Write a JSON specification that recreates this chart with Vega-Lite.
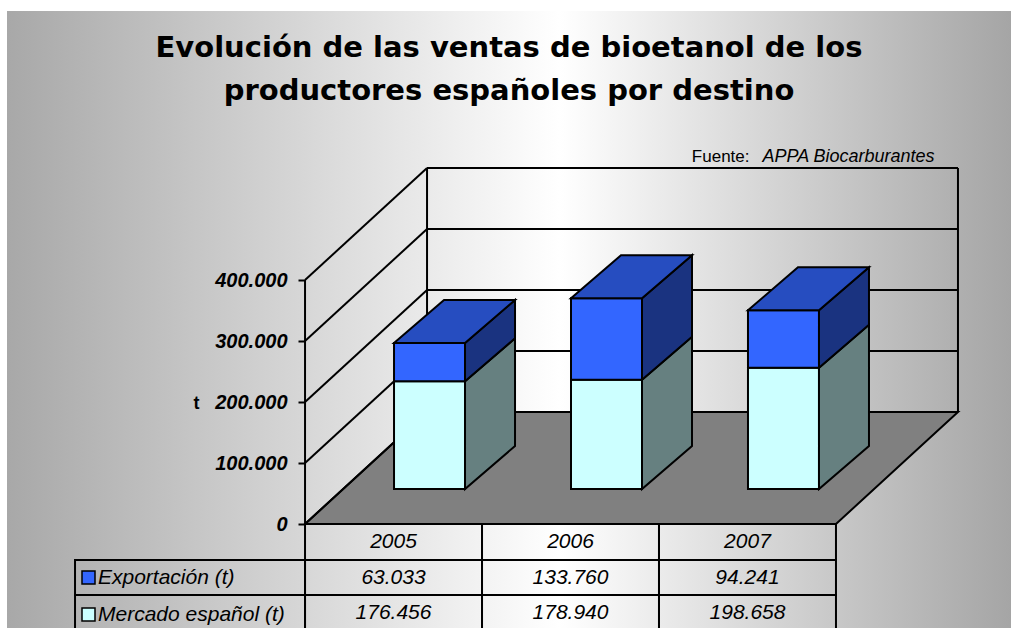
{
  "$schema": "https://vega.github.io/schema/vega-lite/v6.json",
  "background": "white",
  "padding": {"top": 11, "left": 7, "right": 0, "bottom": 0},
  "bounds": "flush",
  "spacing": 0,
  "datasets": {
    "ventas": [
      {"year": 2005, "series": "Mercado español (t)", "value": 176456},
      {"year": 2005, "series": "Exportación (t)", "value": 63033},
      {"year": 2006, "series": "Mercado español (t)", "value": 178940},
      {"year": 2006, "series": "Exportación (t)", "value": 133760},
      {"year": 2007, "series": "Mercado español (t)", "value": 198658},
      {"year": 2007, "series": "Exportación (t)", "value": 94241}
    ],
    "ticks": [{"v": 0}, {"v": 100000}, {"v": 200000}, {"v": 300000}, {"v": 400000}]
  },
  "config": {
    "view": {
      "stroke": null,
      "fill": {
        "gradient": "linear", "x1": 0, "y1": 0, "x2": 1, "y2": 0,
        "stops": [
          {"offset": 0, "color": "#a8a8a8"},
          {"offset": 0.55, "color": "#ffffff"},
          {"offset": 1, "color": "#a5a5a5"}
        ]
      }
    },
    "locale": {"number": {"decimal": ",", "thousands": ".", "grouping": [3], "currency": ["", " €"]}},
    "font": "Liberation Sans"
  },
  "resolve": {"scale": {"x": "independent", "y": "independent"}},
  "vconcat": [
    {
      "width": 1004,
      "height": 549,
      "title": {
        "text": ["Evolución de las ventas de bioetanol de los", "productores españoles por destino"],
        "font": "DejaVu Sans",
        "fontSize": 29,
        "fontWeight": "bold",
        "color": "black",
        "anchor": "middle",
        "frame": "group",
        "baseline": "top",
        "offset": -29,
        "dy": 66,
        "lineHeight": 43
      },
      "data": {"name": "ventas"},
      "layer": [
        {
          "data": {"name": "ticks"},
          "transform": [{"filter": "datum.v === 0"}],
          "mark": {
            "type": "point",
            "shape": "M -1 0.1715 L 0.6263 0.1715 L 1 -0.1715 L -0.6263 -0.1715 Z",
            "size": 426409, "filled": true, "fill": "#808080", "stroke": "black", "strokeWidth": 2, "opacity": 1,
            "xOffset": 61, "yOffset": -56
          },
          "encoding": {
            "x": {"datum": 2006, "type": "quantitative"},
            "y": {"field": "v", "type": "quantitative"}
          }
        },
        {
          "data": {"name": "ticks"},
          "mark": {"type": "tick", "orient": "horizontal", "size": 531, "thickness": 2, "color": "black", "opacity": 1, "xOffset": 122, "yOffset": -112},
          "encoding": {
            "x": {"datum": 2006, "type": "quantitative"},
            "y": {"field": "v", "type": "quantitative"}
          }
        },
        {
          "data": {"name": "ticks"},
          "mark": {
            "type": "point", "shape": "M -1 0.918 L 1 -0.918", "size": 14884, "filled": false,
            "stroke": "black", "strokeWidth": 2, "opacity": 1, "xOffset": 61, "yOffset": -56
          },
          "encoding": {
            "x": {"datum": 2004.5, "type": "quantitative"},
            "y": {"field": "v", "type": "quantitative"}
          }
        },
        {
          "data": {"name": "ticks"},
          "transform": [{"filter": "datum.v === 0"}],
          "mark": {"type": "tick", "orient": "vertical", "size": 244, "thickness": 2, "color": "black", "opacity": 1},
          "encoding": {
            "x": {"datum": 2004.5, "type": "quantitative"},
            "y": {"datum": 200000, "type": "quantitative"}
          }
        },
        {
          "data": {"name": "ticks"},
          "transform": [{"filter": "datum.v === 0"}],
          "mark": {"type": "tick", "orient": "vertical", "size": 244, "thickness": 2, "color": "black", "opacity": 1, "xOffset": 122, "yOffset": -112},
          "encoding": {
            "x": {"datum": 2004.5, "type": "quantitative"},
            "y": {"datum": 200000, "type": "quantitative"}
          }
        },
        {
          "data": {"name": "ticks"},
          "transform": [{"filter": "datum.v === 0"}],
          "mark": {"type": "tick", "orient": "vertical", "size": 244, "thickness": 2, "color": "black", "opacity": 1, "xOffset": 122, "yOffset": -112},
          "encoding": {
            "x": {"datum": 2007.5, "type": "quantitative"},
            "y": {"datum": 200000, "type": "quantitative"}
          }
        },
        {
          "transform": [
            {"stack": "value", "groupby": ["year"], "sort": [{"field": "series", "order": "descending"}], "as": ["lo", "hi"]},
            {"filter": "datum.lo === 0"}
          ],
          "mark": {"type": "rect", "fill": "transparent", "stroke": "black", "strokeWidth": 2, "xOffset": -88.5, "x2Offset": 88.5, "yOffset": 0, "y2Offset": 36},
          "encoding": {
            "x": {"field": "year", "type": "quantitative"},
            "x2": {"field": "year"},
            "y": {"field": "lo", "type": "quantitative"},
            "y2": {"field": "lo"}
          }
        },
        {
          "transform": [
            {"stack": "value", "groupby": ["year"], "sort": [{"field": "series", "order": "descending"}], "as": ["lo", "hi"]},
            {"filter": "datum.lo === 0"}
          ],
          "mark": {"type": "text", "font": "Liberation Sans", "fontSize": 21, "fontStyle": "italic", "color": "black", "align": "center", "baseline": "middle", "yOffset": 18},
          "encoding": {
            "x": {"field": "year", "type": "quantitative"},
            "y": {"field": "lo", "type": "quantitative"},
            "text": {"field": "year", "type": "quantitative", "format": "d"}
          }
        },
        {
          "transform": [
            {"stack": "value", "groupby": ["year"], "sort": [{"field": "series", "order": "descending"}], "as": ["lo", "hi"]}
          ],
          "mark": {"type": "rect", "stroke": "black", "strokeWidth": 2, "xOffset": 0.5, "x2Offset": 71.5, "yOffset": -35, "y2Offset": -35},
          "encoding": {
            "x": {
              "field": "year", "type": "quantitative",
              "scale": {"domain": [2002.816, 2008.489], "nice": false, "zero": false},
              "axis": {
                "orient": "top", "labels": false, "ticks": false, "domain": false, "grid": false,
                "title": "APPA Biocarburantes", "titleX": 755, "titleY": 150, "titleAlign": "left", "titleBaseline": "alphabetic",
                "titleFont": "Liberation Sans", "titleFontSize": 18, "titleFontStyle": "italic", "titleFontWeight": "normal", "titleColor": "black"
              }
            },
            "x2": {"field": "year"},
            "y": {
              "field": "hi", "type": "quantitative",
              "scale": {"domain": [-59016, 840984], "nice": false, "zero": false},
              "axis": {
                "values": [0, 100000, 200000, 300000, 400000], "format": ",d", "offset": -298,
                "domain": false, "grid": false, "ticks": true, "tickSize": 7, "tickWidth": 2, "tickColor": "black",
                "labelPadding": 11, "labelFont": "Liberation Sans", "labelFontSize": 20, "labelFontWeight": "bold", "labelFontStyle": "italic", "labelColor": "black",
                "title": "t", "titleAngle": 0, "titleX": -109, "titleY": 392, "titleAlign": "center", "titleBaseline": "middle",
                "titleFont": "Liberation Sans", "titleFontSize": 18, "titleFontWeight": "bold", "titleColor": "black"
              }
            },
            "y2": {"field": "lo"},
            "color": {
              "field": "series", "type": "nominal",
              "scale": {"domain": ["Exportación (t)", "Mercado español (t)"], "range": ["#3366ff", "#ccffff"]},
              "legend": {
                "orient": "none", "legendX": 71, "legendY": 556, "title": null, "padding": 0,
                "symbolType": "square", "symbolSize": 169, "symbolStrokeColor": "black", "symbolStrokeWidth": 1.5, "symbolOpacity": 1,
                "labelFont": "Liberation Sans", "labelFontSize": 21, "labelFontStyle": "italic", "labelColor": "black",
                "labelOffset": -1, "rowPadding": 15, "labelLimit": 400
              }
            }
          }
        },
        {
          "transform": [
            {"stack": "value", "groupby": ["year"], "sort": [{"field": "series", "order": "descending"}], "as": ["lo", "hi"]},
            {"joinaggregate": [{"op": "min", "field": "hi", "as": "mtop"}, {"op": "min", "field": "lo", "as": "base"}], "groupby": ["year"]}
          ],
          "mark": {
            "type": "area", "fill": "#668080", "stroke": "black", "strokeWidth": 2, "strokeJoin": "miter", "opacity": 1,
            "xOffset": {"expr": "datum.series === 'Exportación (t)' ? 121.5 : 71.5"},
            "yOffset": {"expr": "datum.series === 'Exportación (t)' ? -78 : -35"},
            "y2Offset": {"expr": "datum.series === 'Exportación (t)' ? -78 : -35"}
          },
          "encoding": {
            "x": {"field": "year", "type": "quantitative"},
            "y": {"field": "mtop", "type": "quantitative"},
            "y2": {"field": "base"},
            "detail": {"field": "year", "type": "nominal"}
          }
        },
        {
          "transform": [
            {"stack": "value", "groupby": ["year"], "sort": [{"field": "series", "order": "descending"}], "as": ["lo", "hi"]},
            {"joinaggregate": [{"op": "min", "field": "hi", "as": "mtop"}, {"op": "max", "field": "hi", "as": "total"}], "groupby": ["year"]}
          ],
          "mark": {
            "type": "area", "fill": "#1a3380", "stroke": "black", "strokeWidth": 2, "strokeJoin": "miter", "opacity": 1,
            "xOffset": {"expr": "datum.series === 'Exportación (t)' ? 121.5 : 71.5"},
            "yOffset": {"expr": "datum.series === 'Exportación (t)' ? -78 : -35"},
            "y2Offset": {"expr": "datum.series === 'Exportación (t)' ? -78 : -35"}
          },
          "encoding": {
            "x": {"field": "year", "type": "quantitative"},
            "y": {"field": "total", "type": "quantitative"},
            "y2": {"field": "mtop"},
            "detail": {"field": "year", "type": "nominal"}
          }
        },
        {
          "transform": [
            {"stack": "value", "groupby": ["year"], "sort": [{"field": "series", "order": "descending"}], "as": ["lo", "hi"]},
            {"filter": "datum.series === 'Exportación (t)'"}
          ],
          "mark": {
            "type": "point",
            "shape": "M -1 0.3554 L 0.1736 0.3554 L 1 -0.3554 L -0.1736 -0.3554 Z",
            "size": 14641, "filled": true, "fill": "#264dc0", "stroke": "black", "strokeWidth": 2, "opacity": 1,
            "xOffset": 61, "yOffset": -56.5
          },
          "encoding": {
            "x": {"field": "year", "type": "quantitative"},
            "y": {"field": "hi", "type": "quantitative"}
          }
        }
      ]
    },
    {
      "width": 1004,
      "height": 70,
      "data": {"name": "ventas"},
      "layer": [
        {
          "mark": {"type": "rect", "fill": "transparent", "stroke": "black", "strokeWidth": 2, "xOffset": -88.5, "x2Offset": 88.5},
          "encoding": {
            "x": {
              "field": "year", "type": "quantitative",
              "scale": {"domain": [2002.816, 2008.489], "nice": false, "zero": false},
              "axis": {
                "orient": "top", "labels": false, "ticks": false, "domain": false, "grid": false,
                "title": "Fuente:", "titleX": 742, "titleY": -399, "titleAlign": "right", "titleBaseline": "alphabetic",
                "titleFont": "Liberation Sans", "titleFontSize": 17, "titleFontStyle": "normal", "titleFontWeight": "normal", "titleColor": "black"
              }
            },
            "x2": {"field": "year"},
            "y": {
              "field": "series", "type": "nominal",
              "scale": {"domain": ["Exportación (t)", "Mercado español (t)"], "paddingInner": 0, "paddingOuter": 0},
              "axis": null
            }
          }
        },
        {
          "transform": [{"filter": "datum.year === 2005"}],
          "mark": {"type": "rect", "fill": "transparent", "stroke": "black", "strokeWidth": 2, "xOffset": -318.5, "x2Offset": -88.5},
          "encoding": {
            "x": {"field": "year", "type": "quantitative"},
            "x2": {"field": "year"},
            "y": {"field": "series", "type": "nominal", "axis": null}
          }
        },
        {
          "mark": {"type": "text", "font": "Liberation Sans", "fontSize": 21, "fontStyle": "italic", "color": "black", "align": "center", "baseline": "middle"},
          "encoding": {
            "x": {"field": "year", "type": "quantitative"},
            "y": {"field": "series", "type": "nominal", "axis": null},
            "text": {"field": "value", "type": "quantitative", "format": ",d"}
          }
        }
      ]
    }
  ]
}
